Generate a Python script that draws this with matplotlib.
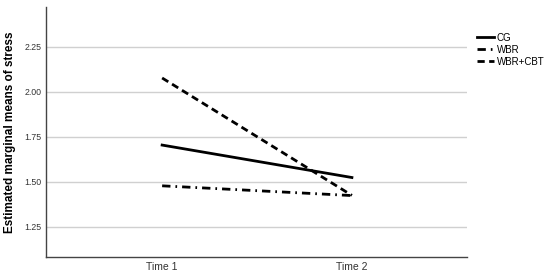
import matplotlib
matplotlib.use("Agg")
import matplotlib.pyplot as plt

times = ["Time 1", "Time 2"]
cg = [1.704, 1.524]
wbr = [1.478, 1.424]
wbr_cbt = [2.076, 1.425]
yticks = [1.25, 1.50, 1.75, 2.00, 2.25]

plt.rcParams['font.family'] = ['Liberation Sans', 'DejaVu Sans']
fig = plt.figure(figsize=(5.5, 2.77), dpi=100)
ax = fig.add_axes([0.0836, 0.072, 0.765, 0.903])

x = list(range(len(times)))
ax.plot(x, cg, color='black', lw=2, ls='-', label='CG')
ax.plot(x, wbr, color='black', lw=2, ls=(0, (3, 1.8, 0.6, 1.8)), label='WBR')
ax.plot(x, wbr_cbt, color='black', lw=2, ls=(0, (2.6, 1.6)), label='WBR+CBT')

ax.set_xlim(-0.612, 1.605)
ax.set_ylim(1.083, 2.47)
ax.set_xticks(x)
ax.set_xticklabels(times, fontsize=7.5, color='#333333')
ax.set_yticks(yticks)
ax.set_yticklabels([f"{v:.2f}" for v in yticks], fontsize=6.3, color='#333333')
ax.tick_params(length=0, pad=3.5)
ax.yaxis.grid(True, color='#d0d0d0', lw=1)
ax.set_axisbelow(True)
for s in ['top', 'right']:
    ax.spines[s].set_visible(False)
for s in ['left', 'bottom']:
    ax.spines[s].set_color('#444444')
    ax.spines[s].set_linewidth(1)
ax.set_ylabel("Estimated marginal means of stress", fontsize=8.5, fontweight='bold', labelpad=6)

leg = ax.legend(loc='upper left', bbox_to_anchor=(1.024, 0.897), frameon=False,
                fontsize=7, handlelength=1.75, handletextpad=0.3, labelspacing=0.2,
                borderaxespad=0, borderpad=0)
fig.savefig("out.png", dpi=100)
